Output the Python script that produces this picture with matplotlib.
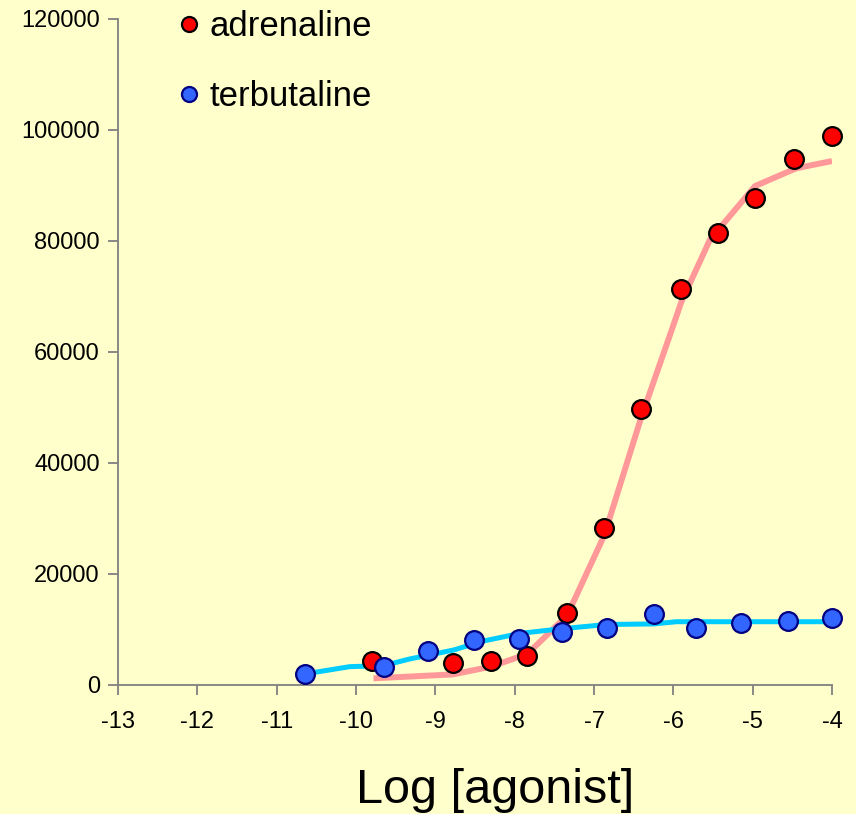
import matplotlib.pyplot as plt

# observed points
adr_x = [-9.80, -8.78, -8.30, -7.84, -7.34, -6.87, -6.41, -5.90, -5.44, -4.97, -4.475, -4.0]
adr_y = [4400, 4000, 4300, 5300, 12900, 28300, 49700, 71400, 81400, 87700, 94800, 99000]

terb_x = [-10.64, -9.65, -9.09, -8.51, -7.95, -7.40, -6.84, -6.25, -5.71, -5.15, -4.56, -4.0]
terb_y = [2000, 3200, 6100, 8100, 8200, 9500, 10300, 12800, 10300, 11100, 11600, 12000]

# fitted curves
adr_fit_x = [-9.78, -8.78, -8.30, -7.84, -7.34, -6.87, -6.41, -6.02, -5.90, -5.54, -4.97, -4.45, -4.0]
adr_fit_y = [1200, 1900, 3300, 5600, 12500, 27000, 48000, 64000, 69000, 80200, 89900, 93100, 94400]

terb_fit_x = [-10.64, -10.08, -9.65, -9.32, -8.77, -8.40, -7.93, -7.43, -6.84, -6.25, -5.96, -5.15, -4.56, -4.0]
terb_fit_y = [2000, 3300, 3500, 4700, 6300, 7900, 9300, 10100, 10900, 11000, 11400, 11400, 11400, 11400]

bg = '#FFFFCC'
plt.rcParams['font.family'] = ['Liberation Sans', 'DejaVu Sans']
plt.rcParams['axes.unicode_minus'] = False

fig = plt.figure(figsize=(8.56, 8.14), dpi=100, facecolor=bg)
ax = fig.add_axes([0.1379, 0.1585, 0.8341, 0.8182], facecolor=bg)

ax.plot(adr_fit_x, adr_fit_y, color='#FF9999', lw=4.3, solid_capstyle='butt', zorder=2)
ax.plot(terb_fit_x, terb_fit_y, color='#00CCFF', lw=3.6, solid_capstyle='butt', zorder=2)

ax.plot(adr_x, adr_y, 'o', ms=13.5, mfc='#FF0000', mec='black', mew=1.6,
        label='adrenaline', zorder=3, clip_on=False)
ax.plot(terb_x, terb_y, 'o', ms=13.5, mfc='#3366FF', mec='#000080', mew=1.6,
        label='terbutaline', zorder=3, clip_on=False)

ax.set_xlim(-13, -4)
ax.set_ylim(0, 120000)
ax.set_xticks(range(-13, -3))
ax.set_yticks(range(0, 120001, 20000))

for s in ['top', 'right']:
    ax.spines[s].set_visible(False)
for s in ['left', 'bottom']:
    ax.spines[s].set_color('#808080')
    ax.spines[s].set_linewidth(1.3)

ax.tick_params(direction='out', length=7, width=1.3, color='#808080',
               labelsize=17, labelcolor='black')
ax.tick_params(axis='x', pad=12)
ax.tick_params(axis='y', pad=6)

# axis title
fig.text(0.578, 0.0135, 'Log [agonist]', fontsize=35, ha='center', va='baseline')

leg = ax.legend(loc='upper left', bbox_to_anchor=(0.065, 1.034), frameon=False,
                fontsize=25, markerscale=0.8, handlelength=0.6,
                handletextpad=0.3, labelspacing=1.07, borderaxespad=0)

fig.savefig('out.png', dpi=100, facecolor=bg)
